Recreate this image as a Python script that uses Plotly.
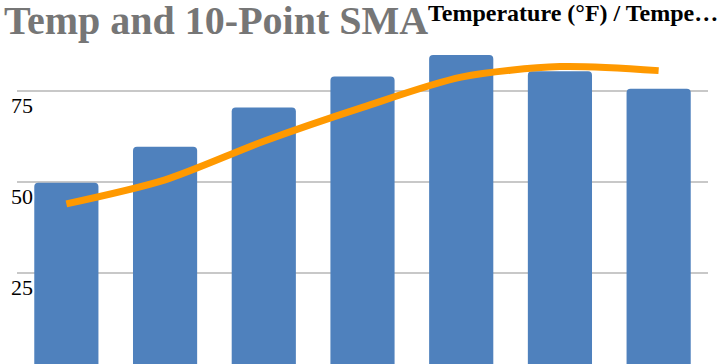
import plotly.graph_objects as go

categories = [0, 1, 2, 3, 4, 5, 6]
temperature = [49.8, 59.7, 70.5, 79.0, 84.9, 80.4, 75.6]
sma_10 = [44.0, 50.6, 61.2, 70.5, 78.8, 81.7, 80.6]
y_ticks = [25, 50, 75, 100]
y_tick_labels = ["25", "50", "75", ""]

fig = go.Figure()
fig.add_trace(go.Bar(
    x=categories, y=temperature, name="Temperature (°F)",
    marker=dict(color="#4f81bd", line=dict(width=0)),
))
fig.add_trace(go.Scatter(
    x=categories, y=sma_10, name="Temperature 10-Point SMA",
    mode="lines", line=dict(color="#ff9900", width=7, shape="spline", smoothing=0.8),
))

fig.update_layout(
    width=726, height=364,
    margin=dict(l=17, r=18, t=0, b=0),
    paper_bgcolor="white", plot_bgcolor="white",
    showlegend=False,
    bargap=0.35,
    barcornerradius=4,
    title=dict(
        text="Temp and 10-Point SMA",
        x=4 / 726, xanchor="left", xref="container",
        y=1.0, yanchor="top", yref="container",
        font=dict(family="Liberation Serif", size=40, color="#767676", weight="bold"),
        pad=dict(t=6, l=0),
    ),
    annotations=[dict(
        text="Temperature (°F) / Tempe…",
        xref="paper", yref="paper", x=1.0, y=1.0,
        xanchor="right", yanchor="top", showarrow=False,
        font=dict(family="Liberation Serif", size=24, color="black", weight="bold"),
        xshift=12, yshift=2,
    )],
)
fig.update_xaxes(
    range=[-0.5, 6.5], showticklabels=False, showgrid=False,
    showline=True, linecolor="#333333", linewidth=2, ticks="", zeroline=False,
)
fig.update_yaxes(
    range=[0, 100], tickvals=y_ticks, ticktext=y_tick_labels,
    showgrid=True, gridcolor="#c8c8c8", gridwidth=1.5,
    zeroline=False, showline=False, ticks="",
    ticklabelposition="inside", ticklabelshift=14, ticklabelstandoff=-9,
    tickfont=dict(family="Liberation Serif", size=22, color="black",
                  shadow="1px 1px 2px white, -1px -1px 2px white, 1px -1px 2px white, -1px 1px 2px white"),
)
fig.write_html(
    "out.html",
    config={"displayModeBar": False},
    post_script="document.body.style.margin='0';document.body.style.overflow='hidden';",
)
